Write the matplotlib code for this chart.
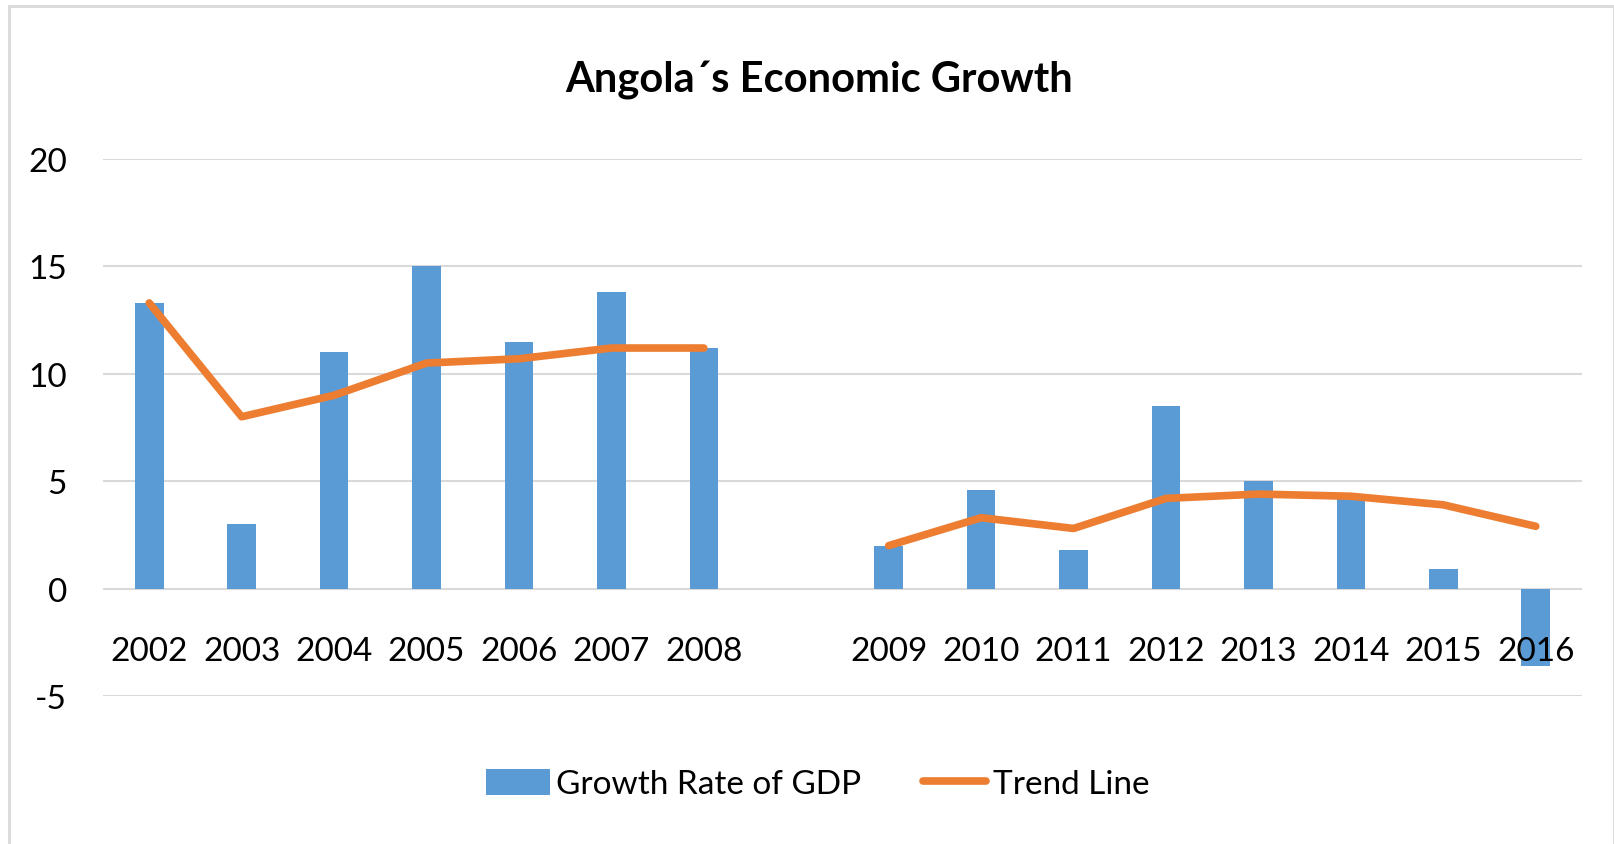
import numpy as np
import matplotlib
matplotlib.use('Agg')
import matplotlib.pyplot as plt
from matplotlib.patches import Rectangle

plt.rcParams['font.family'] = ['Lato', 'DejaVu Sans']
plt.rcParams['axes.unicode_minus'] = False

# data (blank slot between 2008 and 2009)
years = ['2002', '2003', '2004', '2005', '2006', '2007', '2008', '',
         '2009', '2010', '2011', '2012', '2013', '2014', '2015', '2016']
gdp = [13.3, 3.0, 11.0, 15.0, 11.5, 13.8, 11.2, np.nan,
       2.0, 4.6, 1.8, 8.5, 5.0, 4.2, 0.9, -3.6]
trend = [13.3, 8.0, 9.0, 10.5, 10.7, 11.2, 11.2, np.nan,
         2.0, 3.3, 2.8, 4.2, 4.4, 4.3, 3.9, 2.9]

blue = '#5B9BD5'
orange = '#ED7D31'
grid = '#D9D9D9'

fig = plt.figure(figsize=(16.15, 8.45), dpi=100)
ax = fig.add_axes([103 / 1615, 1 - 697 / 845, (1582 - 103) / 1615, (697 - 160) / 845])

x = np.arange(len(years))
bars = ax.bar(x, gdp, width=0.31, color=blue, label='Growth Rate of GDP', zorder=2)
line, = ax.plot(x, trend, color=orange, linewidth=5.5, solid_capstyle='round',
                solid_joinstyle='round', label='Trend Line', zorder=3)

ax.set_xlim(-0.5, len(years) - 0.5)
ax.set_ylim(-5, 20)
ax.set_yticks([-5, 0, 5, 10, 15, 20])
ax.yaxis.grid(True, color=grid, linewidth=1.5)
ax.set_axisbelow(True)
ax.xaxis.set_zorder(5)  # year labels sit on top of the 2016 bar

for s in ['top', 'right', 'left']:
    ax.spines[s].set_visible(False)
ax.spines['bottom'].set_position(('data', 0))
ax.spines['bottom'].set_visible(False)

ax.set_xticks(x)
ax.set_xticklabels(years)
ax.tick_params(axis='x', length=0, pad=34, labelsize=24)
ax.tick_params(axis='y', length=0, pad=26, labelsize=24)

fig.text(819 / 1615, 1 - 92 / 845, 'Angola\u00b4s Economic Growth', ha='center',
         va='baseline', fontsize=30, fontweight='bold')

fig.legend([bars, line], ['Growth Rate of GDP', 'Trend Line'], loc='center',
           bbox_to_anchor=(818 / 1615, 1 - 785 / 845), ncol=2,
           frameon=False, fontsize=24, handlelength=1.9, handleheight=0.82,
           handletextpad=0.2, columnspacing=1.85)

fig.patches.append(Rectangle((9 / 1615, -0.05), (1614 - 9) / 1615, 0.9917 + 0.05,
                             transform=fig.transFigure, fill=False,
                             edgecolor=grid, linewidth=2))

plt.savefig('out.png', dpi=100)
